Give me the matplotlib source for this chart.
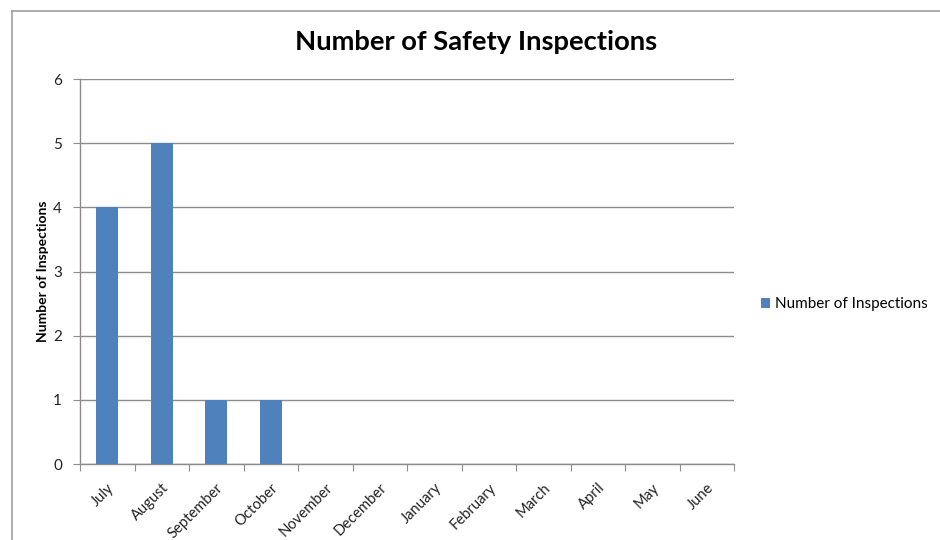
import matplotlib.pyplot as plt
from matplotlib.lines import Line2D
import numpy as np

# ---------------------------------------------------------------------------
# DATA
# ---------------------------------------------------------------------------
months = ["July", "August", "September", "October", "November", "December",
          "January", "February", "March", "April", "May", "June"]
inspections = [4, 5, 1, 1, 0, 0, 0, 0, 0, 0, 0, 0]
y_ticks = [0, 1, 2, 3, 4, 5, 6]

BAR_COLOR = "#4f81bd"
GRID_COLOR = "#8c8c8c"

plt.rcParams["font.family"] = ["Lato", "DejaVu Sans"]

fig = plt.figure(figsize=(9.4, 5.4), dpi=100)

# outer chart-area frame (only left and top edges fall inside the canvas)
fig.add_artist(Line2D([12 / 940, 12 / 940], [0, 1 - 11 / 540],
                      transform=fig.transFigure, color="#a0a0a0", lw=1.2))
fig.add_artist(Line2D([12 / 940, 1], [1 - 11 / 540, 1 - 11 / 540],
                      transform=fig.transFigure, color="#a0a0a0", lw=1.2))

ax = fig.add_axes([80 / 940, 1 - 464 / 540, 654 / 940, 385 / 540])

x = np.arange(len(months))
ax.bar(x, inspections, width=0.4, color=BAR_COLOR, zorder=3,
       label="Number of Inspections")

ax.set_xlim(-0.5, len(months) - 0.5)
ax.set_ylim(0, 6)
ax.set_yticks(y_ticks)
ax.set_yticklabels([str(t) for t in y_ticks], fontsize=11, color="#222222")

# category boundaries carry the tick marks, labels sit at the centres
ax.set_xticks(np.arange(len(months) + 1) - 0.5)
ax.set_xticklabels([])
ax.set_xticks(x, minor=True)
ax.set_xticklabels(months, minor=True, rotation=45, ha="right",
                   rotation_mode="anchor", fontsize=10.6, color="#222222")
ax.tick_params(axis="x", which="major", length=5, color=GRID_COLOR)
ax.tick_params(axis="x", which="minor", length=0, pad=12)
ax.tick_params(axis="y", length=5, color=GRID_COLOR, pad=8)

ax.grid(axis="y", color=GRID_COLOR, lw=1, zorder=0)
for side in ["top", "right"]:
    ax.spines[side].set_visible(False)
for side in ["left", "bottom"]:
    ax.spines[side].set_color(GRID_COLOR)
    ax.spines[side].set_linewidth(1)

ax.set_ylabel("Number of Inspections", fontsize=10, fontweight="bold")
ax.yaxis.set_label_coords(-31 / 654, 0.5)
fig.text(476 / 940, 1 - 42 / 540, "Number of Safety Inspections",
         ha="center", va="center", fontsize=19.7, fontweight="bold")

ax.legend(loc="center left", bbox_to_anchor=(1.02, 0.415), frameon=False,
          fontsize=11, handlelength=0.6, handleheight=0.6, handletextpad=0.3)

fig.savefig("out.png", dpi=100)
